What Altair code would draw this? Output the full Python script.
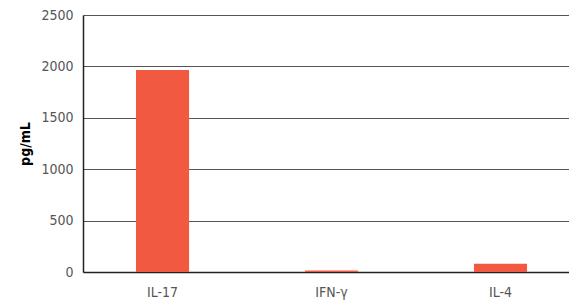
import altair as alt
import pandas as pd

categories = ["IL-17", "IFN-γ", "IL-4"]
values = [1965, 15, 80]

df = pd.DataFrame({"cytokine": categories, "value": values})

font = "DejaVu Sans Condensed"

chart = alt.Chart(df).mark_bar(color="#F15A40").encode(
    x=alt.X("cytokine:N", sort=categories,
            scale=alt.Scale(paddingInner=0.686, paddingOuter=0.281, align=0.558),
            axis=alt.Axis(title=None, labelAngle=0, ticks=False, domain=True,
                          domainColor="#222", domainWidth=1.5,
                          labelFont=font, labelFontSize=14, labelColor="#555",
                          labelPadding=13)),
    y=alt.Y("value:Q", scale=alt.Scale(domain=[0, 2500]),
            axis=alt.Axis(title="pg/mL", values=[0, 500, 1000, 1500, 2000, 2500],
                          format="d",
                          ticks=False, domain=True, domainColor="#222", domainWidth=1.5,
                          grid=True, gridColor="#555", gridWidth=1.2,
                          labelFont=font, labelFontSize=14, labelColor="#555",
                          labelPadding=10,
                          titleFont="DejaVu Sans Condensed", titleFontSize=14,
                          titleFontWeight="bold", titleColor="#000",
                          titlePadding=8)),
).properties(
    width=486, height=257,
    autosize=alt.AutoSizeParams(type="none"),
    padding={"left": 75, "top": 7, "right": 0, "bottom": 30},
).configure_view(stroke=None)

chart.save("out.html", embed_options={"renderer": "svg", "actions": False})
